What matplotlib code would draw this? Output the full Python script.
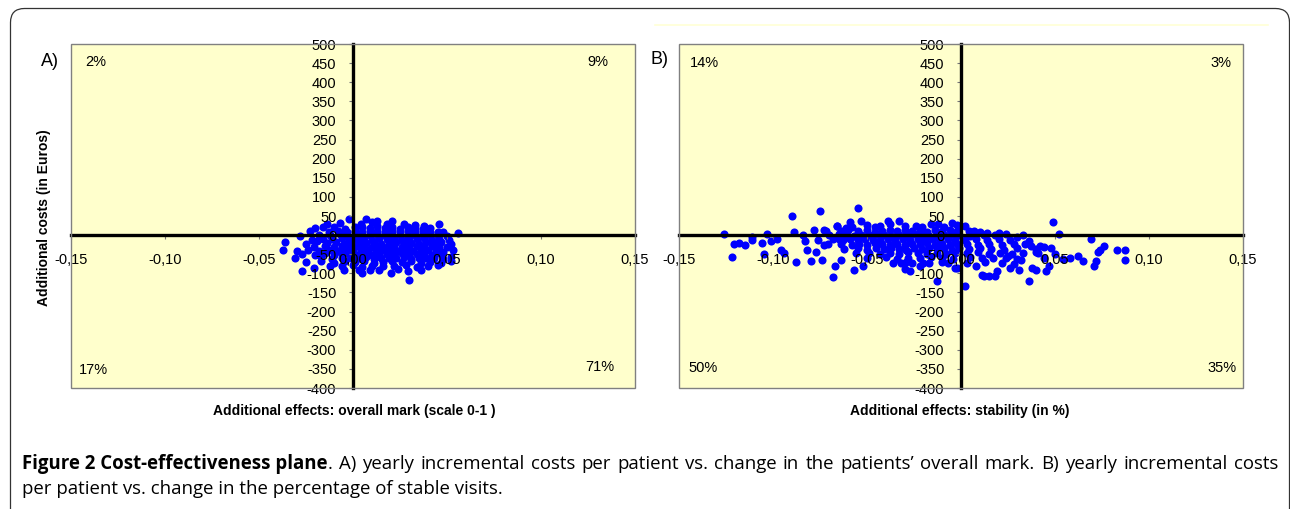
import matplotlib
matplotlib.use('Agg')
import matplotlib.pyplot as plt
from matplotlib.patches import FancyBboxPatch, Rectangle
from matplotlib.lines import Line2D
from matplotlib.transforms import IdentityTransform

plt.rcParams['font.family'] = ['Liberation Sans', 'DejaVu Sans']
plt.rcParams['axes.unicode_minus'] = False

# Panel A: effect on overall mark (scale 0-1) vs. additional costs (Euros)
effect_a = [
    -0.002, 0.007, 0.021,
    -0.014, -0.007, 0.004, 0.010, 0.013, 0.018, 0.027, 0.033, 0.038, 0.046,
    -0.020, -0.016, -0.010, -0.004, 0.001, 0.005, 0.009, 0.013, 0.017, 0.021, 0.025, 0.029, 0.033, 0.037, 0.041,
    -0.023, -0.013, -0.008, -0.003, 0.001, 0.005, 0.009, 0.013, 0.017, 0.021, 0.025, 0.029, 0.033, 0.037, 0.041, 0.045, 0.048, 0.056,
    -0.028, -0.018, -0.012, -0.007, -0.003, 0.001, 0.005, 0.009, 0.013, 0.017, 0.021, 0.025, 0.029, 0.033, 0.037, 0.041, 0.045, 0.050,
    -0.022, -0.016, -0.011, -0.006, -0.002, 0.002, 0.006, 0.010, 0.014, 0.018, 0.022, 0.026, 0.030, 0.034, 0.038, 0.042, 0.046, 0.051,
    -0.036, -0.025, -0.019, -0.014, -0.009, -0.005, -0.001, 0.003, 0.007, 0.011, 0.015, 0.019, 0.023, 0.027, 0.031, 0.035, 0.039, 0.043, 0.047, 0.052,
    -0.021, -0.015, -0.010, -0.006, -0.002, 0.002, 0.006, 0.010, 0.014, 0.018, 0.022, 0.026, 0.030, 0.034, 0.038, 0.042, 0.046, 0.050,
    -0.037, -0.030, -0.024, -0.018, -0.013, -0.008, -0.004, 0.000, 0.004, 0.008, 0.012, 0.016, 0.020, 0.024, 0.028, 0.032, 0.036, 0.040, 0.044, 0.048, 0.053,
    -0.027, -0.020, -0.015, -0.010, -0.006, -0.002, 0.002, 0.006, 0.010, 0.014, 0.018, 0.022, 0.026, 0.030, 0.034, 0.038, 0.042, 0.046, 0.052,
    -0.031, -0.017, -0.011, -0.006, -0.001, 0.003, 0.007, 0.011, 0.015, 0.019, 0.023, 0.027, 0.031, 0.035, 0.039, 0.043, 0.048,
    -0.025, -0.017, -0.010, -0.004, 0.001, 0.006, 0.011, 0.016, 0.021, 0.026, 0.031, 0.036, 0.041, 0.047, 0.052,
    -0.021, -0.012, -0.006, 0.000, 0.005, 0.010, 0.016, 0.022, 0.028, 0.034, 0.040, 0.045,
    -0.027, -0.005, 0.003, 0.009, 0.014, 0.024, 0.029, 0.036,
    0.005, 0.020, 0.030,
]
cost_a = [
    43, 41, 38,
    29, 32, 30, 33, 36, 28, 30, 27, 25, 28,
    18, 22, 20, 17, 22, 20, 18, 23, 19, 21, 17, 22, 19, 16, 18,
    10, 8, 11, 9, 12, 8, 10, 11, 7, 12, 9, 10, 8, 11, 9, 7, 9, 6,
    -2, 1, -1, 2, 0, -2, 1, -1, 2, 0, -1, 1, -2, 0, 2, -1, 0, -3,
    -12, -9, -11, -8, -12, -10, -9, -12, -8, -11, -10, -12, -9, -11, -8, -12, -10, -13,
    -19, -22, -16, -21, -19, -22, -20, -18, -21, -19, -22, -20, -18, -21, -20, -22, -19, -21, -18, -23,
    -31, -28, -32, -29, -31, -28, -32, -30, -29, -31, -28, -32, -30, -29, -31, -28, -32, -30,
    -40, -42, -38, -41, -39, -42, -40, -38, -41, -39, -42, -40, -38, -41, -39, -42, -40, -38, -41, -43, -39,
    -49, -51, -48, -52, -50, -49, -51, -48, -52, -50, -49, -51, -48, -52, -50, -49, -51, -47, -56,
    -61, -58, -62, -60, -59, -61, -58, -62, -60, -59, -61, -58, -62, -60, -59, -61, -63,
    -70, -69, -72, -68, -71, -69, -72, -70, -68, -71, -69, -72, -70, -73, -69,
    -85, -80, -82, -79, -83, -81, -80, -82, -79, -83, -80, -78,
    -93, -90, -90, -90, -92, -88, -95, -91,
    -100, -98, -117,
]

# Panel B: effect on stability vs. additional costs (Euros)
effect_b = [
    # scattered points
    -0.126, -0.122, -0.121, -0.118, -0.115, -0.111, -0.111, -0.106, -0.103, -0.101,
    -0.098, -0.105, -0.096, -0.094, -0.090, -0.088, -0.089, -0.084, -0.083, -0.082,
    -0.080, -0.075, -0.078, -0.077, -0.074, -0.073, -0.073, -0.068, -0.067, -0.066,
    -0.065, -0.064, -0.061, -0.059, -0.057, -0.055, -0.053, -0.052, -0.043, -0.039,
    -0.033, -0.032, -0.027, -0.026, -0.024, -0.017, -0.013, -0.012, -0.007, -0.002,
    -0.005, 0.049, 0.052, 0.069, 0.076, 0.074, 0.073, 0.083, 0.087, 0.087,
    0.072, 0.071, 0.065, 0.062, 0.058, 0.054, 0.047, 0.045, 0.044, 0.040,
    0.038, 0.036, 0.031, 0.033, 0.024, 0.020, 0.014, 0.018, 0.015, 0.012,
    0.011, 0.002, -0.003, 0.002, 0.007, 0.037, 0.042,
    0.030, 0.036, 0.040, 0.044, 0.025, 0.032, 0.019, 0.028,
    # dense centre
    -0.066, -0.058, -0.050, -0.046, -0.038, -0.030, -0.021, -0.016, -0.009, -0.002,
    -0.072, -0.064, -0.060, -0.055, -0.050, -0.046, -0.042, -0.038, -0.034, -0.030,
    -0.026, -0.022, -0.018, -0.014, -0.010, -0.006, -0.002, 0.004, 0.010,
    -0.070, -0.065, -0.061, -0.057, -0.053, -0.049, -0.045, -0.041, -0.037, -0.033,
    -0.029, -0.025, -0.021, -0.017, -0.013, -0.009, -0.005, -0.001, 0.005, 0.012, 0.018,
    -0.076, -0.068, -0.063, -0.059, -0.055, -0.051, -0.047, -0.043, -0.039, -0.035,
    -0.031, -0.027, -0.023, -0.019, -0.015, -0.011, -0.007, -0.003, 0.002, 0.008,
    0.014, 0.020, 0.026,
    -0.071, -0.064, -0.058, -0.054, -0.050, -0.046, -0.042, -0.038, -0.034, -0.030,
    -0.026, -0.022, -0.018, -0.014, -0.010, -0.006, -0.002, 0.003, 0.009, 0.015,
    0.022, 0.028, 0.034,
    -0.062, -0.055, -0.050, -0.045, -0.041, -0.037, -0.033, -0.029, -0.025, -0.021,
    -0.017, -0.013, -0.009, -0.005, -0.001, 0.004, 0.010, 0.016, 0.023, 0.030,
    0.040, 0.048,
    -0.056, -0.049, -0.043, -0.038, -0.033, -0.028, -0.023, -0.018, -0.013, -0.008,
    -0.003, 0.003, 0.009, 0.015, 0.021, 0.027, 0.033, 0.041, 0.050,
    -0.050, -0.040, -0.034, -0.028, -0.022, -0.016, -0.010, -0.004, 0.005, 0.011,
    0.017, 0.024, 0.030,
    -0.036, -0.029, -0.020, -0.010, 0.003, 0.013, 0.022, -0.030, -0.022, 0.008, 0.026,
]
cost_b = [
    3, -56, -23, -21, -27, -5, -14, -21, 4, -16,
    -10, -49, -38, -47, 51, -70, 7, 1, -16, -38,
    -69, 64, 14, -45, -64, 14, -26, -110, -82, 25,
    -10, -64, 19, 34, -90, 71, 36, -82, 23, 36,
    36, -73, -95, -73, 23, -73, -121, 28, -73, -86,
    32, 34, 4, -10, -29, -38, -45, -40, -40, -66,
    -69, -82, -69, -54, -60, -63, -82, -95, -60, -90,
    -86, -121, -90, 1, 3, 6, 6, -108, -108, -108,
    -104, -132, -86, 23, 10, -29, -29,
    -5, -15, -45, -30, -55, -65, -95, -75,
    25, 22, 26, 20, 28, 24, 22, 30, 20, 26,
    12, 10, 14, 11, 13, 9, 12, 14, 10, 13,
    11, 12, 9, 14, 11, 13, 10, 12, 8,
    -1, 2, 0, -2, 1, -1, 2, 0, -2, 1,
    -1, 2, 0, -2, 1, -1, 2, 0, -2, 1, -1,
    -12, -10, -14, -11, -13, -9, -12, -14, -10, -13,
    -11, -12, -9, -14, -11, -13, -10, -12, -14, -11,
    -13, -10, -12,
    -24, -22, -26, -23, -25, -21, -24, -26, -22, -25,
    -23, -24, -21, -26, -23, -25, -22, -24, -26, -23,
    -25, -22, -24,
    -36, -34, -38, -35, -37, -33, -36, -38, -34, -37,
    -35, -36, -33, -38, -35, -37, -34, -36, -38, -35,
    -37, -34,
    -48, -46, -50, -47, -49, -45, -48, -50, -46, -49,
    -47, -48, -45, -50, -47, -49, -46, -48, -50,
    -60, -58, -62, -59, -61, -57, -60, -62, -58, -61,
    -59, -60, -62,
    -72, -70, -74, -71, -73, -70, -72, -88, -82, -80, -85,
]

x_ticks = [-0.15, -0.10, -0.05, 0.0, 0.05, 0.10, 0.15]
x_tick_labels = ['-0,15', '-0,10', '-0,05', '0,00', '0,05', '0,10', '0,15']
y_ticks = list(range(-400, 501, 50))

pct_a = ['2%', '9%', '17%', '71%']
pct_b = ['14%', '3%', '50%', '35%']

W, H = 1290, 509
fig = plt.figure(figsize=(W / 100, H / 100), dpi=100)
fig.patch.set_facecolor('white')


def plane(ax, xs, ys, pcts, pct_pos):
    ax.set_facecolor('#FFFFCC')
    ax.scatter(xs, ys, s=34, marker='o', color='#0000FF', linewidths=0, zorder=1)
    ax.set_xlim(-0.15, 0.15)
    ax.set_ylim(-400, 500)
    ax.spines['left'].set_position(('data', 0))
    ax.spines['bottom'].set_position(('data', 0))
    for s in ['left', 'bottom']:
        ax.spines[s].set_linewidth(2.4)
        ax.spines[s].set_color('black')
    ax.spines['top'].set_visible(False)
    ax.spines['right'].set_visible(False)
    ax.add_patch(Rectangle((0, 0), 1, 1, transform=ax.transAxes, fill=False,
                           ec='#808080', lw=1.0, zorder=5, clip_on=False))
    ax.set_xticks(x_ticks)
    ax.set_xticklabels(x_tick_labels)
    ax.set_yticks(y_ticks)
    ax.tick_params(axis='x', direction='out', length=3, width=0.8, color='#777777',
                   pad=10, labelsize=10.5)
    ax.tick_params(axis='y', direction='out', length=3, width=0.8, color='#777777',
                   pad=9, labelsize=10.5)
    for txt, (px, py, ha) in zip(pcts, pct_pos):
        ax.text(px, py, txt, transform=ax.transAxes, ha=ha, va='center', fontsize=10.5)


axA = fig.add_axes([71 / W, (H - 388) / H, 564 / W, 344 / H])
axB = fig.add_axes([679 / W, (H - 388) / H, 564 / W, 344 / H])
plane(axA, effect_a, cost_a, pct_a,
      [(0.025, 0.948, 'left'), (0.952, 0.948, 'right'),
       (0.014, 0.052, 'left'), (0.963, 0.061, 'right')])
plane(axB, effect_b, cost_b, pct_b,
      [(0.0195, 0.945, 'left'), (0.979, 0.945, 'right'),
       (0.0175, 0.058, 'left'), (0.988, 0.058, 'right')])

fig.text(50 / W, 1 - 62 / H, 'A)', fontsize=13, ha='center', va='center')
fig.text(660 / W, 1 - 60 / H, 'B)', fontsize=13, ha='center', va='center')
fig.text(44 / W, 1 - 218 / H, 'Additional costs (in Euros)', rotation=90,
         fontsize=10, weight='bold', ha='center', va='center')
fig.text(354 / W, 1 - 411 / H, 'Additional effects: overall mark (scale 0-1 )',
         fontsize=10, weight='bold', ha='center', va='center')
fig.text(960 / W, 1 - 411 / H, 'Additional effects: stability (in %)',
         fontsize=10, weight='bold', ha='center', va='center')

# outer rounded frame and faint line
fig.add_artist(FancyBboxPatch((10.5, -40), 1279, H - 8.5 + 40,
                              boxstyle='round,pad=0,rounding_size=14',
                              transform=IdentityTransform(), fill=False,
                              ec='#333333', lw=0.9))
fig.add_artist(Line2D([655 / W, 1268 / W], [1 - 25 / H, 1 - 25 / H],
                      color='#FFFFD6', lw=1.2))

# caption (line 1 justified)
renderer = fig.canvas.get_renderer()
cap_font = ['Open Sans', 'DejaVu Sans']


def text_width(s, **kw):
    t = fig.text(0, 0, s, family=cap_font, **kw)
    w = t.get_window_extent(renderer).width
    t.remove()
    return w


line2 = 'per patient vs. change in the percentage of stable visits.'
fs = 10 * 483 / text_width(line2, fontsize=10)
bold_part = 'Figure 2 Cost-effectiveness plane'
rest_words = ['.'] + ('A) yearly incremental costs per patient vs. change in the '
                      'patients\u2019 overall mark. B) yearly incremental costs').split()

wb = text_width(bold_part, fontsize=fs, weight='bold')
ww = [text_width(w, fontsize=fs) for w in rest_words]
x0, x1 = 22, 1278
gap = (x1 - x0 - wb - sum(ww)) / (len(rest_words) - 1)
y1 = 1 - 469 / H
fig.text(x0 / W, y1, bold_part, family=cap_font, fontsize=fs, weight='bold', va='baseline')
x = x0 + wb
for w, wd in zip(rest_words, ww):
    fig.text(x / W, y1, w, family=cap_font, fontsize=fs, va='baseline')
    x += wd + gap
fig.text(x0 / W, 1 - 494 / H, line2, family=cap_font, fontsize=fs, va='baseline')

fig.savefig('out.png', dpi=100)
